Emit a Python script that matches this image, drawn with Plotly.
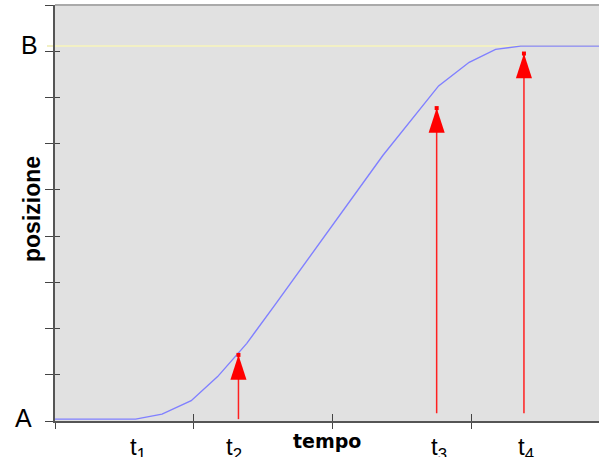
import plotly.graph_objects as go

# ---- data ----
time_vals = [0, 0.58, 0.77, 0.98, 1.17, 1.38, 1.58, 1.78, 1.98, 2.17, 2.36, 2.76, 2.98, 3.17, 3.35, 3.914]
pos_vals = [0.04, 0.04, 0.15, 0.44, 0.96, 1.68, 2.50, 3.33, 4.16, 4.97, 5.75, 7.25, 7.76, 8.04, 8.11, 8.11]

b_level = 8.115

arrow_t = [1.32, 2.746, 3.374]
arrow_base = [0.04, 0.17, 0.17]
arrow_tip = [1.43, 6.77, 7.95]

t_labels = ["t<sub>1</sub>", "t<sub>2</sub>", "t<sub>3</sub>", "t<sub>4</sub>"]
t_label_pos = [0.6, 1.29, 2.76, 3.39]

y_labels = ["A", "B"]
y_label_vals = [0.04, b_level]

x_tick_vals = [0, 1, 2, 3]
y_tick_vals = list(range(0, 10))

x_title = "tempo"
y_title = "posizione"

# ---- figure ----
fig = go.Figure()

fig.add_trace(go.Scatter(x=time_vals, y=pos_vals, mode="lines",
                         line=dict(color="#8080ff", width=1.4),
                         hoverinfo="skip", showlegend=False))

for xt, yb, yt in zip(arrow_t, arrow_base, arrow_tip):
    fig.add_trace(go.Scatter(x=[xt, xt], y=[yb, yt], mode="lines",
                             line=dict(color="#ff2020", width=1.5),
                             hoverinfo="skip", showlegend=False))

fig.add_trace(go.Scatter(x=arrow_t, y=arrow_tip, mode="markers",
                         marker=dict(symbol="arrow", size=26, color="#ff0000",
                                     angle=0, line=dict(width=0)),
                         hoverinfo="skip", showlegend=False))
fig.add_trace(go.Scatter(x=arrow_t, y=arrow_tip, mode="markers",
                         marker=dict(symbol="square", size=4, color="#ff0000",
                                     line=dict(width=0)),
                         hoverinfo="skip", showlegend=False))

# overlay axes to draw the inner half of the crossing ticks
fig.add_trace(go.Scatter(x=[None], y=[None], xaxis="x2", yaxis="y2",
                         showlegend=False, hoverinfo="skip"))

W, H = 599, 457
ml, mr, mt, mb = 55, 0, 5, 36
pw = W - ml - mr

fig.update_layout(
    width=W, height=H,
    margin=dict(l=ml, r=mr, t=mt, b=mb),
    paper_bgcolor="white",
    plot_bgcolor="#e1e1e1",
    font=dict(family="Liberation Sans, Arial, sans-serif", color="black"),
    xaxis=dict(range=[0, 3.914], tickvals=x_tick_vals, showticklabels=False,
               ticks="outside", ticklen=6, tickwidth=1.2, tickcolor="#444",
               showline=True, linecolor="#555", linewidth=2,
               showgrid=False, zeroline=False, fixedrange=True),
    yaxis=dict(range=[0, 9], tickvals=y_tick_vals, showticklabels=False,
               ticks="outside", ticklen=8, tickwidth=1.2, tickcolor="#444",
               showline=True, linecolor="#555", linewidth=2,
               showgrid=False, zeroline=False, fixedrange=True),
    xaxis2=dict(range=[0, 3.914], overlaying="x", side="bottom", anchor="y2",
                tickvals=x_tick_vals, showticklabels=False,
                ticks="inside", ticklen=7, tickwidth=1.2, tickcolor="#444",
                showline=False, showgrid=False, zeroline=False),
    yaxis2=dict(range=[0, 9], overlaying="y", side="left", anchor="x2",
                tickvals=y_tick_vals, showticklabels=False,
                ticks="inside", ticklen=5, tickwidth=1.2, tickcolor="#444",
                showline=False, showgrid=False, zeroline=False),
    shapes=[
        dict(type="line", xref="paper", yref="paper", x0=0, x1=1, y0=1, y1=1,
             line=dict(color="#aaaaaa", width=2), layer="above"),
        dict(type="line", xref="paper", yref="y", x0=-8 / pw, x1=1,
             y0=b_level, y1=b_level,
             line=dict(color="#f2f0c4", width=2), layer="below"),
    ],
)

annotations = []
for lab, yv, xpx in zip(y_labels, y_label_vals, [23.5, 29.5]):
    annotations.append(dict(text=lab, xref="paper", yref="y",
                            x=(xpx - ml) / pw, y=yv, xanchor="center", yanchor="middle",
                            showarrow=False, font=dict(size=25), yshift=1))
for lab, xv in zip(t_labels, t_label_pos):
    annotations.append(dict(text=lab, xref="x", yref="paper", x=xv, y=0,
                            xanchor="center", yanchor="top", yshift=-10,
                            showarrow=False, font=dict(size=24)))
annotations.append(dict(text="<b>" + x_title + "</b>", xref="paper", yref="paper",
                        x=0.5, y=0, xanchor="center", yanchor="top", yshift=-7,
                        showarrow=False,
                        font=dict(size=19, family="DejaVu Sans")))
annotations.append(dict(text="<b>" + y_title + "</b>", xref="paper", yref="paper",
                        x=(32 - ml) / pw, y=0.5, xanchor="center", yanchor="middle",
                        textangle=-90, yshift=4, showarrow=False,
                        font=dict(size=23)))
fig.update_layout(annotations=annotations)

fig.write_html("out.html", config={"displayModeBar": False},
               post_script="document.body.style.margin='0';document.body.style.overflow='hidden';")
